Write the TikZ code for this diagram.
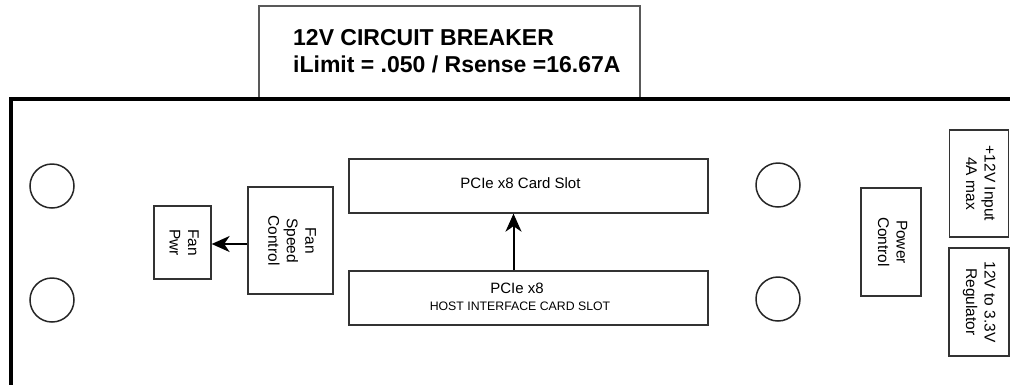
\documentclass[tikz,border=0pt]{standalone}
\usepackage{fontspec}
\setmainfont{Liberation Sans}
\usepackage{graphicx}
\usetikzlibrary{arrows.meta,positioning,shapes}

\newcommand{\vlabel}[1]{\rotatebox{-90}{\begin{tabular}{@{}c@{}}#1\end{tabular}}}

\begin{document}
\begin{tikzpicture}[x=1pt,y=-1pt,
  box/.style={draw=black!80,line width=1.3pt,inner sep=0pt,font=\fontsize{15.5}{18.5}\selectfont},
  hole/.style={draw=black!85,circle,line width=1.5pt,minimum size=44pt,inner sep=0pt},
  conn/.style={-{Stealth[length=18pt,width=16pt,inset=5.5pt]},line width=2pt},
  lbl/.style={font=\fontsize{15}{17.5}\selectfont,inner sep=0pt,anchor=base}]
\useasboundingbox (0,0) rectangle (1010,384);
% breaker box above the board
\node[draw=black!65,line width=1.3pt,minimum width=381pt,minimum height=92pt,inner sep=0pt] (breaker) at (449.5,52) {};
\node[font=\bfseries\fontsize{23}{27}\selectfont,anchor=base west,inner sep=0pt] (breakertitle) at (293,45) {12V CIRCUIT BREAKER};
\node[font=\bfseries\fontsize{23}{27}\selectfont,anchor=base west,inner sep=0pt] (breakerlimit) at (293,72) {iLimit = .050 / Rsense =16.67A};
% board outline
\draw[line width=4pt] (11,400) -- (11,98.5) -- (1020,98.5);
% mounting holes
\node[hole] (holeA) at (52,186) {};
\node[hole] (holeB) at (52,300) {};
\node[hole] (holeC) at (778,185) {};
\node[hole] (holeD) at (778,299) {};
% blocks
\node[box,minimum width=57pt,minimum height=73pt] (fanpwr) at (182.5,242.5) {\vlabel{Fan\\Pwr}};
\node[box,minimum width=85pt,minimum height=107pt] (fanctrl) at (290.5,240.5) {\vlabel{Fan\\Speed\\Control}};
\node[box,minimum width=359pt,minimum height=54pt] (cardslot) at (528.5,186) {};
\node[box,minimum width=359pt,minimum height=54pt] (hostslot) at (528.5,298) {};
\node[lbl] (cardtext) at (520.5,188) {PCIe x8 Card Slot};
\node[lbl] (hosttext) at (517,293) {PCIe x8};
\node[lbl,font=\fontsize{12.3}{14}\selectfont] (hostsub) at (520,310) {HOST INTERFACE CARD SLOT};
\node[box,minimum width=60pt,minimum height=108pt] (powerctl) at (891,242) {\vlabel{Power\\Control}};
\node[box,minimum width=59pt,minimum height=107pt] (input12) at (979,183.5) {\vlabel{+12V Input\\4A max}};
\node[box,minimum width=60pt,minimum height=108pt] (reg33) at (979,302) {\vlabel{12V to 3.3V\\Regulator}};
% connections
\coordinate (fanjoin) at ([yshift=-3.5pt]fanctrl.west);
\draw[conn] (fanjoin) -- (fanjoin -| fanpwr.east);
\draw[conn] ([xshift=-15pt]hostslot.north) -- ([xshift=-15pt]cardslot.south);
\end{tikzpicture}
\end{document}
